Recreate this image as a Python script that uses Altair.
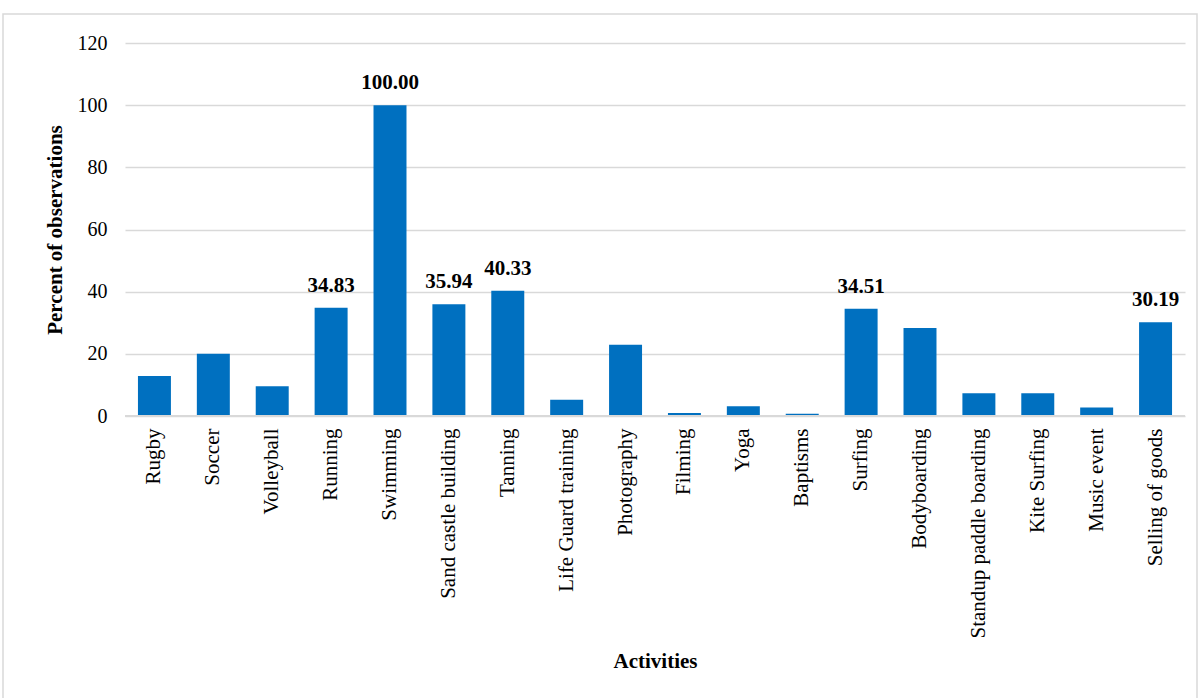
import altair as alt
import pandas as pd

activities = ["Rugby", "Soccer", "Volleyball", "Running", "Swimming",
              "Sand castle building", "Tanning", "Life Guard training",
              "Photography", "Filming", "Yoga", "Baptisms", "Surfing",
              "Bodyboarding", "Standup paddle boarding", "Kite Surfing",
              "Music event", "Selling of goods"]
percents = [12.9, 20.0, 9.6, 34.83, 100.00, 35.94, 40.33, 5.2, 22.9, 1.0,
            3.1, 0.7, 34.51, 28.3, 7.3, 7.3, 2.7, 30.19]
labelled = ["Running", "Swimming", "Sand castle building", "Tanning",
            "Surfing", "Selling of goods"]

df = pd.DataFrame({"Activity": activities, "Percent": percents})
df["Label"] = [f"{v:.2f}" if a in labelled else "" for a, v in zip(activities, percents)]

W, H = 1060, 373
FONT = "Liberation Serif"

x = alt.X("Activity:N", sort=None, title="Activities",
          scale=alt.Scale(paddingInner=0.44, paddingOuter=0.22),
          axis=alt.Axis(labelAngle=-90, labelFont=FONT, labelFontSize=21,
                        labelColor="#000", ticks=False, domain=False,
                        labelPadding=12, titleFont=FONT, titleFontSize=21,
                        titleFontWeight="bold", titleColor="#000",
                        titlePadding=34, labelLimit=400))
y = alt.Y("Percent:Q", title="Percent of observations",
          scale=alt.Scale(domain=[0, 120], nice=False),
          axis=alt.Axis(values=[0, 20, 40, 60, 80, 100, 120], ticks=False,
                        domain=False, labelFont=FONT, labelFontSize=20,
                        labelColor="#000", labelPadding=18,
                        gridColor="#d9d9d9", gridWidth=1.5,
                        titleFont=FONT, titleFontSize=21,
                        titleFontWeight="bold", titleColor="#000",
                        titlePadding=12))

border = alt.Chart(pd.DataFrame({"a": [0]})).mark_rect(
    fill=None, stroke="#d9d9d9", strokeWidth=1.5
).encode(x=alt.value(-122), x2=alt.value(W + 12),
         y=alt.value(-29), y2=alt.value(H + 300))

bars = alt.Chart(df).mark_bar(color="#0070C0").encode(x=x, y=y)

baseline = alt.Chart(pd.DataFrame({"a": [0]})).mark_rule(
    color="#d9d9d9", strokeWidth=2
).encode(y=alt.datum(0), x=alt.value(0), x2=alt.value(W))

text = alt.Chart(df).mark_text(
    font=FONT, fontSize=21, fontWeight="bold", color="#000",
    baseline="bottom", dy=-12
).encode(x=x, y=y, text="Label:N")

chart = alt.layer(border, bars, baseline, text).properties(
    width=W, height=H,
    autosize=alt.AutoSizeParams(type="none"),
    padding={"left": 125, "top": 43, "right": 15, "bottom": 282},
    background="white"
).configure_view(stroke=None)

chart.save("out.html", embed_options={"renderer": "svg", "actions": False})
